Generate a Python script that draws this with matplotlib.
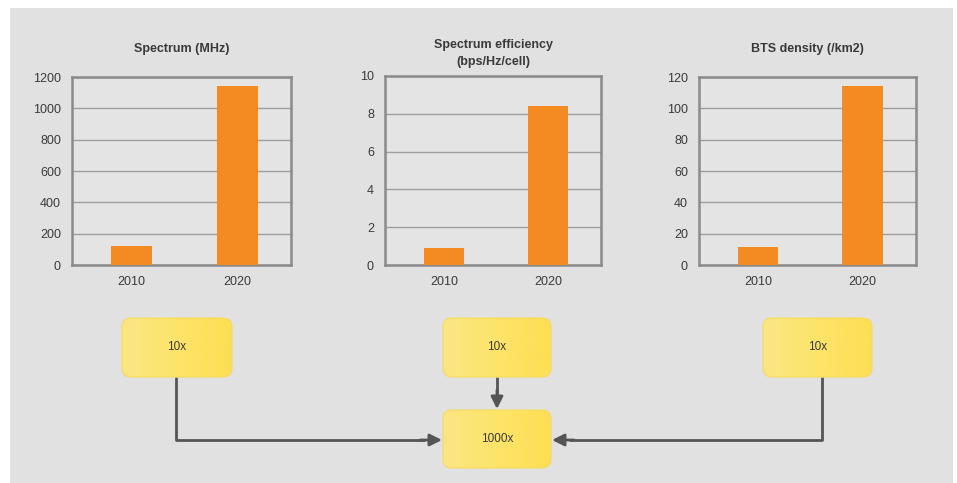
import matplotlib
matplotlib.use("Agg")
import matplotlib.pyplot as plt
import numpy as np
from matplotlib.patches import Rectangle, FancyBboxPatch
from matplotlib.colors import LinearSegmentedColormap

plt.rcParams['font.family'] = ['Liberation Sans', 'DejaVu Sans']

# ---- data ----
years = ["2010", "2020"]
titles = ["Spectrum (MHz)", "Spectrum efficiency\n(bps/Hz/cell)", "BTS density (/km2)"]
spectrum = [120, 1140]
efficiency = [0.9, 8.4]
density = [11.5, 114]
series = [spectrum, efficiency, density]
ymaxes = [1200, 10, 120]
ysteps = [200, 2, 20]
factor_labels = ["10x", "10x", "10x"]
total_label = "1000x"

W, H = 957, 483
fig = plt.figure(figsize=(W / 100, H / 100), dpi=100)
fig.patch.set_facecolor("white")

# background in pixel coordinates
bg = fig.add_axes([0, 0, 1, 1], zorder=0)
bg.set_xlim(0, W)
bg.set_ylim(H, 0)
bg.axis("off")
bg.add_patch(Rectangle((10, 8), 943, 480, facecolor="#e1e1e1", edgecolor="none"))

def px_axes(x0, y0, x1, y1):
    return fig.add_axes([x0 / W, 1 - y1 / H, (x1 - x0) / W, (y1 - y0) / H], zorder=2)

boxes_px = [(72, 77, 291, 265), (385, 76, 601, 265), (699, 77, 916, 265)]
text_col = "#3a3a3a"
for (x0, y0, x1, y1), vals, title, ymax, step in zip(boxes_px, series, titles, ymaxes, ysteps):
    ax = px_axes(x0, y0, x1, y1)
    ax.set_facecolor("#e4e4e4")
    ax.bar(range(len(years)), vals, width=0.39, color="#f48a22", zorder=3)
    ax.set_xlim(-0.565, 1.51)
    ax.set_ylim(0, ymax)
    ax.set_yticks(np.arange(0, ymax + step / 2, step))
    ax.set_xticks(range(len(years)))
    ax.set_xticklabels(years)
    ax.yaxis.grid(True, color="#9e9e9e", lw=1.0, zorder=1)
    ax.set_axisbelow(True)
    ax.tick_params(length=0, labelsize=9, colors=text_col)
    ax.tick_params(axis="y", pad=8)
    ax.tick_params(axis="x", pad=8)
    for s in ax.spines.values():
        s.set_color("#8a8a8a")
        s.set_linewidth(1.8)
    ax.set_title(title, fontsize=9, fontweight="bold", color=text_col,
                 pad=18 if "\n" not in title else 8, linespacing=1.5)

# ---- boxes and arrows ----
ov = fig.add_axes([0, 0, 1, 1], zorder=3)
ov.set_xlim(0, W)
ov.set_ylim(H, 0)
ov.axis("off")
ov.patch.set_alpha(0)

grad = np.linspace(0, 1, 256).reshape(1, -1)
cmap = LinearSegmentedColormap.from_list("yel", ["#fbe685", "#fde469", "#fdde55"])

def ybox(x0, y0, x1, y1, label):
    p = FancyBboxPatch((x0 + 6, y0 + 6), (x1 - x0) - 12, (y1 - y0) - 12,
                       boxstyle="round,pad=6,rounding_size=9",
                       facecolor="none", edgecolor="#f6dc5a", lw=0.8, zorder=4)
    ov.add_patch(p)
    im = ov.imshow(grad, cmap=cmap, extent=(x0, x1, y1, y0), aspect="auto", zorder=3,
                   interpolation="bilinear")
    im.set_clip_path(p)
    ov.text((x0 + x1) / 2, (y0 + y1) / 2, label, ha="center", va="center",
            fontsize=8.5, color=text_col, zorder=5)

ybox(122, 318, 232, 377, factor_labels[0])
ybox(443, 318, 551, 377, factor_labels[1])
ybox(763, 318, 872, 377, factor_labels[2])
ybox(443, 410, 551, 468, total_label)

acol = "#555555"
lw = 2.0
ov.plot([176, 176, 425], [377, 440, 440], color=acol, lw=lw, solid_capstyle="butt", zorder=2)
ov.plot([822, 822, 569], [377, 440, 440], color=acol, lw=lw, solid_capstyle="butt", zorder=2)
ov.plot([497, 497], [377, 396], color=acol, lw=lw, solid_capstyle="butt", zorder=2)
aprops = dict(arrowstyle="-|>,head_length=0.6,head_width=0.3", color=acol, lw=lw,
              shrinkA=0, shrinkB=0, mutation_scale=12)
ov.annotate("", xy=(442, 440), xytext=(420, 440), arrowprops=aprops, zorder=2)
ov.annotate("", xy=(552, 440), xytext=(574, 440), arrowprops=aprops, zorder=2)
ov.annotate("", xy=(497, 409), xytext=(497, 390), arrowprops=aprops, zorder=2)

fig.savefig("out.png", dpi=100, facecolor=fig.get_facecolor())
